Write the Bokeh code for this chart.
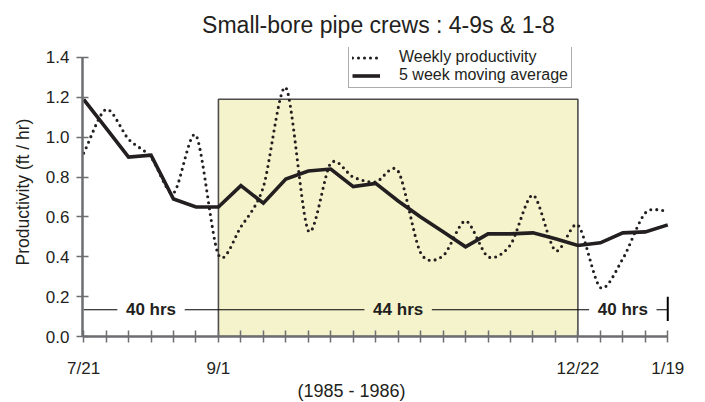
import numpy as np
from bokeh.plotting import figure
from bokeh.models import Range1d, FixedTicker, Label, Legend, LegendItem, Title
from bokeh.embed import file_html
from bokeh.resources import INLINE

# ---------------- data ----------------
weeks = list(range(27))  # weekly index from 7/21 (1985) to 1/19 (1986)
weekly_productivity = [0.92, 1.14, 0.99, 0.90, 0.72, 1.01, 0.41, 0.55, 0.75, 1.25,
                       0.53, 0.87, 0.80, 0.775, 0.83, 0.42, 0.405, 0.58, 0.40, 0.46,
                       0.71, 0.43, 0.56, 0.245, 0.39, 0.62, 0.63]
moving_average = [1.19, 1.045, 0.90, 0.91, 0.69, 0.65, 0.65, 0.757, 0.669, 0.79,
                  0.83, 0.84, 0.752, 0.768, 0.68, 0.60, 0.525, 0.45, 0.515, 0.515,
                  0.52, 0.49, 0.457, 0.47, 0.52, 0.525, 0.56]
tick_weeks = [0, 6, 22, 26]
tick_labels = ["7/21", "9/1", "12/22", "1/19"]
y_ticks = [0.0, 0.2, 0.4, 0.6, 0.8, 1.0, 1.2, 1.4]
period_start = [0, 6, 22]
period_end = [6, 22, 26]
period_labels = ["40 hrs", "44 hrs", "40 hrs"]
hrs_level = 0.134
shade_start, shade_end, shade_top = 6, 22, 1.19

TXT = "#231f20"
AX = "#6d6e71"
FONT = "Liberation Sans"


def smooth(xs, ys, samples=16, tension=0.85):
    xs = np.asarray(xs, float)
    ys = np.asarray(ys, float)
    px = np.concatenate([[2 * xs[0] - xs[1]], xs, [2 * xs[-1] - xs[-2]]])
    py = np.concatenate([[2 * ys[0] - ys[1]], ys, [2 * ys[-1] - ys[-2]]])
    t = np.linspace(0, 1, samples, endpoint=False)
    h00 = 2 * t ** 3 - 3 * t ** 2 + 1
    h10 = t ** 3 - 2 * t ** 2 + t
    h01 = -2 * t ** 3 + 3 * t ** 2
    h11 = t ** 3 - t ** 2
    ox, oy = [], []
    for i in range(1, len(px) - 2):
        for arr, out in ((px, ox), (py, oy)):
            p0, p1, p2, p3 = arr[i - 1], arr[i], arr[i + 1], arr[i + 2]
            m1 = tension * (p2 - p0) / 2
            m2 = tension * (p3 - p1) / 2
            out.extend(h00 * p1 + h10 * m1 + h01 * p2 + h11 * m2)
    ox.append(xs[-1])
    oy.append(ys[-1])
    return ox, oy


p = figure(width=705, height=402, x_range=Range1d(-0.05, 26.3), y_range=Range1d(0, 1.45),
           output_backend="svg", toolbar_location=None,
           min_border_left=82, min_border_right=31, min_border_top=47, min_border_bottom=65)
p.outline_line_color = None
p.xgrid.grid_line_color = None
p.ygrid.grid_line_color = None
p.background_fill_color = "white"

# title
p.title.text = "Small-bore pipe crews : 4-9s & 1-8"
p.title.align = "center"
p.title.offset = -17
p.title.standoff = 19
p.title.text_font = FONT
p.title.text_font_size = "23px"
p.title.text_font_style = "normal"
p.title.text_color = TXT

# shaded 44 hrs period
p.quad(left=[shade_start], right=[shade_end], bottom=[0], top=[shade_top],
       fill_color="#f5f3cb", line_color="#4d4d4d", line_width=1.6)

# hours annotation lines
gap = 1.5
mids = [(a + b) / 2 for a, b in zip(period_start, period_end)]
x0s, x1s = [], []
for a, b, m in zip(period_start, period_end, mids):
    x0s += [a, m + gap]
    x1s += [m - gap, b]
p.segment(x0=x0s, x1=x1s, y0=[hrs_level] * len(x0s), y1=[hrs_level] * len(x0s),
          line_color="black", line_width=1.1)
p.segment(x0=[period_end[-1]], x1=[period_end[-1]], y0=[hrs_level - 0.056], y1=[hrs_level + 0.066],
          line_color="black", line_width=2)
for m, lab in zip(mids, period_labels):
    p.add_layout(Label(x=m, y=hrs_level, text=lab, text_align="center", text_baseline="middle",
                       text_font=FONT, text_font_size="17px", text_font_style="bold",
                       text_color=TXT))

# data
sx, sy = smooth(weeks, weekly_productivity)
r_week = p.line(sx, sy, line_color=TXT, line_width=3.1, line_dash="0 6", line_cap="round")
r_ma = p.line(weeks, moving_average, line_color=TXT, line_width=3.6, line_join="miter")

# axes
p.xaxis.ticker = FixedTicker(ticks=weeks)
overrides = {w: "" for w in weeks}
for w, lab in zip(tick_weeks, tick_labels):
    overrides[w] = lab
p.xaxis.major_label_overrides = overrides
p.xaxis.bounds = (0, 26)
p.yaxis.ticker = FixedTicker(ticks=y_ticks)
p.yaxis.major_label_overrides = {t: f"{t:.1f}" for t in y_ticks}
p.yaxis.bounds = (0, 1.4)
for ax in (p.xaxis[0], p.yaxis[0]):
    ax.axis_line_color = AX
    ax.axis_line_width = 2.5
    ax.major_tick_line_color = AX
    ax.major_tick_line_width = 1.5
    ax.major_tick_in = 6
    ax.major_tick_out = 6
    ax.minor_tick_line_color = None
    ax.major_label_text_font = FONT
    ax.major_label_text_font_size = "17px"
    ax.major_label_text_color = TXT
p.xaxis.major_label_standoff = 16
p.yaxis.major_label_standoff = 7
p.yaxis.axis_label = "Productivity (ft / hr)"
p.yaxis.axis_label_text_font = FONT
p.yaxis.axis_label_text_font_size = "17.5px"
p.yaxis.axis_label_text_font_style = "normal"
p.yaxis.axis_label_text_color = TXT
p.yaxis.axis_label_standoff = 10

# period note below the axis
p.add_layout(Title(text="(1985 - 1986)", align="left", offset=215, standoff=0,
                   vertical_align="top", text_font=FONT, text_font_size="18px",
                   text_font_style="normal", text_color=TXT), "below")
# figure caption (cut by the page edge, as in the source)
p.add_layout(Label(x=-3.16, y=-0.305, text="Figure 4b", text_align="left", text_baseline="top",
                   text_font=FONT, text_font_size="19px", text_font_style="italic",
                   text_color=TXT))

legend = Legend(items=[LegendItem(label="Weekly productivity", renderers=[r_week]),
                       LegendItem(label="5 week moving average", renderers=[r_ma])],
                location=(266, 248), border_line_color="#58595b", border_line_width=1.5,
                padding=3, spacing=0, margin=0, label_text_font=FONT,
                label_text_font_size="16px", label_text_color=TXT, glyph_width=28,
                glyph_height=17, label_height=17, label_standoff=19,
                background_fill_color="white", background_fill_alpha=1.0)
p.add_layout(legend)

open("out.html", "w").write(file_html(p, INLINE))
